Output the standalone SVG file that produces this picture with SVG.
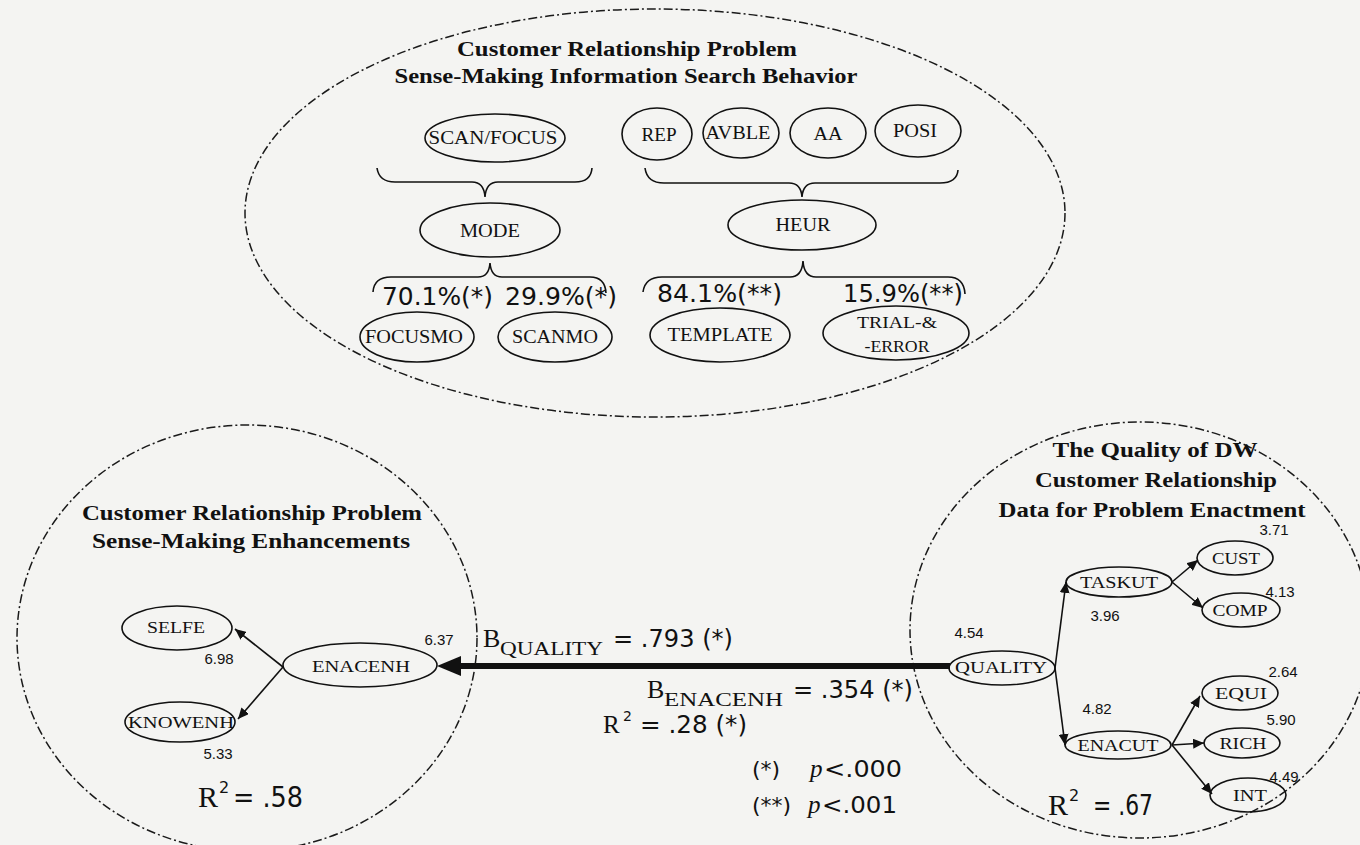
<svg xmlns="http://www.w3.org/2000/svg" width="1360" height="845" viewBox="0 0 1360 845">
  <defs>
    <style>
      .bg { fill: #f4f4f2; }
      .region { fill: none; stroke: #1a1a1a; stroke-width: 1.5; stroke-dasharray: 9 3 2 3; }
      .node { fill: none; stroke: #111; stroke-width: 1.6; }
      .brace { fill: none; stroke: #111; stroke-width: 1.6; }
      .edge { fill: none; stroke: #111; stroke-width: 1.6; }
      .title { font-family: "Liberation Serif", "DejaVu Serif", serif; font-weight: bold; font-size: 20px; fill: #111; text-anchor: middle; }
      .lbl { font-family: "Liberation Serif", "DejaVu Serif", serif; font-size: 18px; fill: #111; text-anchor: middle; dominant-baseline: central; }
      .sm { font-size: 17px; }
      .num { font-family: "Liberation Sans", Arial, sans-serif; font-size: 15px; fill: #111; text-anchor: middle; }
      .stat { font-family: "DejaVu Sans", "Liberation Sans", sans-serif; fill: #111; }
      .ser { font-family: "Liberation Serif", "DejaVu Serif", serif; fill: #111; }
    </style>
    <marker id="arr" markerUnits="userSpaceOnUse" markerWidth="12" markerHeight="10" refX="11" refY="5" orient="auto">
      <path d="M0,0 L11,5 L0,10 Z" fill="#111"/>
    </marker>
  </defs>

  <rect class="bg" x="0" y="0" width="1360" height="845"/>

  <!-- dashed region outlines -->
  <g id="regions">
    <ellipse class="region" cx="655" cy="213" rx="410" ry="204"/>
    <ellipse class="region" cx="247" cy="638" rx="230" ry="213"/>
    <ellipse class="region" cx="1140" cy="630" rx="230" ry="208"/>
  </g>

  <!-- region titles -->
  <g id="titles">
    <text class="title" x="627" y="56" textLength="340" lengthAdjust="spacingAndGlyphs">Customer Relationship Problem</text>
    <text class="title" x="626" y="83" textLength="463" lengthAdjust="spacingAndGlyphs">Sense-Making Information Search Behavior</text>
    <text class="title" x="252" y="520" textLength="340" lengthAdjust="spacingAndGlyphs">Customer Relationship Problem</text>
    <text class="title" x="251" y="548" textLength="318" lengthAdjust="spacingAndGlyphs">Sense-Making Enhancements</text>
    <text class="title" x="1155" y="457" textLength="205" lengthAdjust="spacingAndGlyphs">The Quality of DW</text>
    <text class="title" x="1156" y="487" textLength="242" lengthAdjust="spacingAndGlyphs">Customer Relationship</text>
    <text class="title" x="1152" y="517" textLength="307" lengthAdjust="spacingAndGlyphs">Data for Problem Enactment</text>
  </g>

  <!-- search behaviour nodes -->
  <g id="scanfocus">
    <ellipse class="node" cx="495" cy="138" rx="70" ry="24"/>
    <text class="lbl" x="493" y="138" textLength="129" lengthAdjust="spacingAndGlyphs">SCAN/FOCUS</text>
  </g>
  <g id="rep">
    <ellipse class="node" cx="657" cy="134" rx="35" ry="26"/>
    <text class="lbl" x="659" y="135" textLength="35" lengthAdjust="spacingAndGlyphs">REP</text>
  </g>
  <g id="avble">
    <ellipse class="node" cx="741" cy="133" rx="38" ry="25"/>
    <text class="lbl" x="738" y="133" textLength="65" lengthAdjust="spacingAndGlyphs">AVBLE</text>
  </g>
  <g id="aa">
    <ellipse class="node" cx="828" cy="133" rx="38" ry="25"/>
    <text class="lbl" x="828" y="134" textLength="29" lengthAdjust="spacingAndGlyphs">AA</text>
  </g>
  <g id="posi">
    <ellipse class="node" cx="918" cy="131" rx="43" ry="26"/>
    <text class="lbl" x="915" y="131" textLength="44" lengthAdjust="spacingAndGlyphs">POSI</text>
  </g>
  <g id="mode">
    <ellipse class="node" cx="490" cy="230" rx="70" ry="27"/>
    <text class="lbl" x="490" y="231" textLength="60" lengthAdjust="spacingAndGlyphs">MODE</text>
  </g>
  <g id="heur">
    <ellipse class="node" cx="802" cy="225" rx="74" ry="25"/>
    <text class="lbl" x="803" y="225" textLength="55" lengthAdjust="spacingAndGlyphs">HEUR</text>
  </g>
  <g id="focusmo">
    <ellipse class="node" cx="417" cy="337" rx="57" ry="25"/>
    <text class="lbl" x="414" y="337" textLength="98" lengthAdjust="spacingAndGlyphs">FOCUSMO</text>
  </g>
  <g id="scanmo">
    <ellipse class="node" cx="555" cy="337" rx="57" ry="25"/>
    <text class="lbl" x="555" y="337" textLength="86" lengthAdjust="spacingAndGlyphs">SCANMO</text>
  </g>
  <g id="template">
    <ellipse class="node" cx="720" cy="335" rx="70" ry="27"/>
    <text class="lbl" x="720" y="335" textLength="105" lengthAdjust="spacingAndGlyphs">TEMPLATE</text>
  </g>
  <g id="trialerror">
    <ellipse class="node" cx="896" cy="333" rx="73" ry="27"/>
    <text class="lbl sm" x="897" y="322" textLength="80" lengthAdjust="spacingAndGlyphs">TRIAL-&amp;</text>
    <text class="lbl sm" x="897" y="346" textLength="65" lengthAdjust="spacingAndGlyphs">-ERROR</text>
  </g>

  <!-- grouping braces and shares -->
  <g id="braces">
    <path class="brace" d="M377,168 Q379,182 395,182 L472,182 Q484,182 485,197 Q486,182 498,182 L575,182 Q591,182 592,168"/>
    <path class="brace" d="M645,168 Q647,183 664,183 L789,183 Q801,183 802,197 Q803,183 815,183 L940,183 Q957,183 958,170"/>
    <path class="brace" d="M373,292 Q374,277 391,277 L478,277 Q489,277 490,263 Q491,277 502,277 L590,277 Q605,277 606,293"/>
    <path class="brace" d="M643,292 Q645,277 662,277 L790,277 Q802,277 803,261 Q804,277 816,277 L948,277 Q964,277 965,294"/>
  </g>
  <g id="shares" class="stat" style="font-size:25px">
    <text x="382" y="305" textLength="111" lengthAdjust="spacingAndGlyphs">70.1%(*)</text>
    <text x="505" y="305" textLength="112" lengthAdjust="spacingAndGlyphs">29.9%(*)</text>
    <text x="657" y="302" textLength="125" lengthAdjust="spacingAndGlyphs">84.1%(**)</text>
    <text x="843" y="302" textLength="120" lengthAdjust="spacingAndGlyphs">15.9%(**)</text>
  </g>

  <!-- enhancement nodes -->
  <g id="selfe">
    <ellipse class="node" cx="177" cy="628" rx="55" ry="22"/>
    <text class="lbl sm" x="176" y="627" textLength="58" lengthAdjust="spacingAndGlyphs">SELFE</text>
  </g>
  <g id="enacenh">
    <ellipse class="node" cx="360" cy="665" rx="77" ry="22"/>
    <text class="lbl sm" x="361" y="666" textLength="98" lengthAdjust="spacingAndGlyphs">ENACENH</text>
  </g>
  <g id="knowenh">
    <ellipse class="node" cx="180" cy="722" rx="55" ry="20"/>
    <text class="lbl sm" x="181" y="722" textLength="106" lengthAdjust="spacingAndGlyphs">KNOWENH</text>
  </g>

  <!-- data quality nodes -->
  <g id="quality">
    <ellipse class="node" cx="1002" cy="668" rx="53" ry="17"/>
    <text class="lbl sm" x="1001" y="667" textLength="92" lengthAdjust="spacingAndGlyphs">QUALITY</text>
  </g>
  <g id="taskut">
    <ellipse class="node" cx="1119" cy="582" rx="53" ry="15"/>
    <text class="lbl sm" x="1119" y="582" textLength="78" lengthAdjust="spacingAndGlyphs">TASKUT</text>
  </g>
  <g id="enacut">
    <ellipse class="node" cx="1118" cy="745" rx="53" ry="14"/>
    <text class="lbl sm" x="1118" y="745" textLength="81" lengthAdjust="spacingAndGlyphs">ENACUT</text>
  </g>
  <g id="cust">
    <ellipse class="node" cx="1235" cy="558" rx="38" ry="17"/>
    <text class="lbl sm" x="1236" y="558" textLength="48" lengthAdjust="spacingAndGlyphs">CUST</text>
  </g>
  <g id="comp">
    <ellipse class="node" cx="1241" cy="610" rx="39" ry="17"/>
    <text class="lbl sm" x="1240" y="610" textLength="55" lengthAdjust="spacingAndGlyphs">COMP</text>
  </g>
  <g id="equi">
    <ellipse class="node" cx="1240" cy="693" rx="38" ry="17"/>
    <text class="lbl sm" x="1241" y="693" textLength="52" lengthAdjust="spacingAndGlyphs">EQUI</text>
  </g>
  <g id="rich">
    <ellipse class="node" cx="1242" cy="743" rx="38" ry="15"/>
    <text class="lbl sm" x="1243" y="743" textLength="47" lengthAdjust="spacingAndGlyphs">RICH</text>
  </g>
  <g id="int">
    <ellipse class="node" cx="1248" cy="795" rx="38" ry="17"/>
    <text class="lbl sm" x="1250" y="795" textLength="34" lengthAdjust="spacingAndGlyphs">INT</text>
  </g>

  <!-- connectors -->
  <g id="connectors">
    <line class="edge" x1="283" y1="667" x2="235" y2="629" marker-end="url(#arr)"/>
    <line class="edge" x1="283" y1="667" x2="238" y2="719" marker-end="url(#arr)"/>
    <line class="edge" x1="1055" y1="668" x2="1066" y2="582" marker-end="url(#arr)"/>
    <line class="edge" x1="1055" y1="668" x2="1065" y2="745" marker-end="url(#arr)"/>
    <line class="edge" x1="1172" y1="582" x2="1198" y2="560" marker-end="url(#arr)"/>
    <line class="edge" x1="1172" y1="582" x2="1203" y2="608" marker-end="url(#arr)"/>
    <line class="edge" x1="1172" y1="745" x2="1200" y2="696" marker-end="url(#arr)"/>
    <line class="edge" x1="1172" y1="745" x2="1204" y2="743" marker-end="url(#arr)"/>
    <line class="edge" x1="1172" y1="745" x2="1212" y2="794" marker-end="url(#arr)"/>
    <line x1="455" y1="666" x2="950" y2="666" stroke="#111" stroke-width="6"/>
    <path d="M437,666 L461,656 L461,676 Z" fill="#111"/>
  </g>

  <!-- loadings and means -->
  <g id="values" class="num">
    <text x="219" y="664">6.98</text>
    <text x="218" y="759">5.33</text>
    <text x="439" y="645">6.37</text>
    <text x="969" y="638">4.54</text>
    <text x="1105" y="621">3.96</text>
    <text x="1097" y="714">4.82</text>
    <text x="1274" y="535">3.71</text>
    <text x="1280" y="597">4.13</text>
    <text x="1283" y="677">2.64</text>
    <text x="1281" y="725">5.90</text>
    <text x="1284" y="782">4.49</text>
  </g>

  <!-- path coefficients and fit -->
  <g id="statistics">
    <text class="ser" x="483" y="647" style="font-size:26px">B</text>
    <text class="ser" x="500" y="655" style="font-size:18px" textLength="103" lengthAdjust="spacingAndGlyphs">QUALITY</text>
    <text class="stat" x="613" y="647" style="font-size:24px" textLength="120" lengthAdjust="spacingAndGlyphs">= .793 (*)</text>

    <text class="ser" x="647" y="698" style="font-size:26px">B</text>
    <text class="ser" x="664" y="706" style="font-size:18px" textLength="119" lengthAdjust="spacingAndGlyphs">ENACENH</text>
    <text class="stat" x="793" y="698" style="font-size:24px" textLength="120" lengthAdjust="spacingAndGlyphs">= .354 (*)</text>

    <text class="ser" x="603" y="733" style="font-size:25px">R</text>
    <text class="stat" x="623" y="721" style="font-size:14px">2</text>
    <text class="stat" x="640" y="733" style="font-size:24px" textLength="107" lengthAdjust="spacingAndGlyphs">= .28 (*)</text>

    <text class="stat" x="752" y="777" style="font-size:22px">(*)</text>
    <text class="ser" x="810" y="777" style="font-size:25px;font-style:italic">p</text>
    <text class="stat" x="824" y="777" style="font-size:23px" textLength="78" lengthAdjust="spacingAndGlyphs">&lt;.000</text>
    <text class="stat" x="752" y="813" style="font-size:22px">(**)</text>
    <text class="ser" x="808" y="813" style="font-size:25px;font-style:italic">p</text>
    <text class="stat" x="822" y="813" style="font-size:23px" textLength="75" lengthAdjust="spacingAndGlyphs">&lt;.001</text>

    <text class="ser" x="198" y="807" style="font-size:30px">R</text>
    <text class="stat" x="219" y="793" style="font-size:16px">2</text>
    <text class="stat" x="233" y="807" style="font-size:28px" textLength="70" lengthAdjust="spacingAndGlyphs">= .58</text>

    <text class="ser" x="1048" y="815" style="font-size:30px">R</text>
    <text class="stat" x="1069" y="801" style="font-size:16px">2</text>
    <text class="stat" x="1093" y="815" style="font-size:28px" textLength="60" lengthAdjust="spacingAndGlyphs">= .67</text>
  </g>
</svg>
